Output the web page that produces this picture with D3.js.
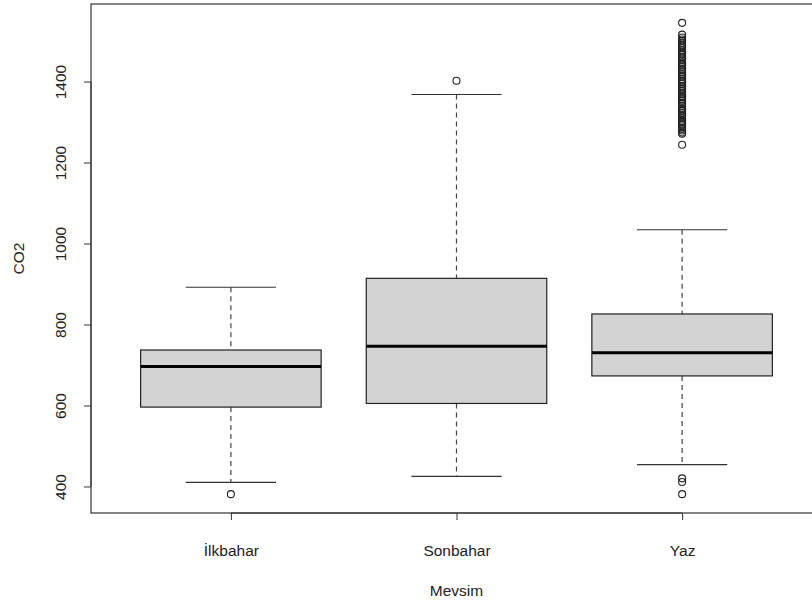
<!DOCTYPE html>
<html>
<head>
<meta charset="utf-8">
<script src="https://cdn.jsdelivr.net/npm/d3@7"></script>
<style>
  html, body { margin: 0; padding: 0; background: #ffffff; }
  svg { display: block; font-family: "Liberation Sans", Arial, sans-serif; }
</style>
</head>
<body>
<svg id="chart" width="812" height="600"></svg>
<script>
// ---- Data ----
const categories = ["İlkbahar", "Sonbahar", "Yaz"];
const lowerWhisker = [410, 425, 454];
const q1 = [596, 605, 673];
const median = [696, 746, 730];
const q3 = [737, 914, 826];
const upperWhisker = [892, 1368, 1034];
const outliersIlkbahar = [381];
const outliersSonbahar = [1402];
const outliersYaz = [381, 411, 420, 1244, 1271, 1274, 1279, 1283, 1286, 1292, 1296, 1301, 1303, 1309, 1314, 1317, 1322, 1327, 1331, 1333, 1339, 1344, 1347, 1352, 1356, 1361, 1364, 1368, 1373, 1377, 1381, 1386, 1389, 1394, 1398, 1402, 1406, 1411, 1415, 1418, 1423, 1428, 1431, 1436, 1440, 1444, 1447, 1452, 1457, 1461, 1466, 1469, 1474, 1478, 1483, 1487, 1491, 1496, 1500, 1504, 1509, 1516, 1545];
const yTicks = [400, 600, 800, 1000, 1200, 1400];
const xTitle = "Mevsim";
const yTitle = "CO2";

const outliers = [outliersIlkbahar, outliersSonbahar, outliersYaz];

(function () {
const svg = d3.select("#chart");
const pLeft = 91, pTop = 4, pRight = 822, pBottom = 513;
const FS = 15.5;

const allVals = [].concat(lowerWhisker, upperWhisker, ...outliers);
const yMin = d3.min(allVals), yMax = d3.max(allVals);
const ext = (yMax - yMin) * 0.04;
const y = d3.scaleLinear().domain([yMin - ext, yMax + ext]).range([pBottom, pTop]);
const x = d3.scaleLinear().domain([0.5 - 0.12, 3.5 + 0.12]).range([pLeft, pRight]);

const boxHalf = (x(1.4) - x(1));
const stapleHalf = boxHalf / 2;

const g = svg.append("g");

categories.forEach((c, i) => {
  const cx = x(i + 1);
  g.append("line").attr("x1", cx).attr("x2", cx)
    .attr("y1", y(upperWhisker[i])).attr("y2", y(q3[i]))
    .attr("stroke", "#444").attr("stroke-width", 1.2).attr("stroke-dasharray", "5,4");
  g.append("line").attr("x1", cx).attr("x2", cx)
    .attr("y1", y(q1[i])).attr("y2", y(lowerWhisker[i]))
    .attr("stroke", "#444").attr("stroke-width", 1.2).attr("stroke-dasharray", "5,4");
  [upperWhisker[i], lowerWhisker[i]].forEach(v => {
    g.append("line").attr("x1", cx - stapleHalf).attr("x2", cx + stapleHalf)
      .attr("y1", y(v)).attr("y2", y(v)).attr("stroke", "#333").attr("stroke-width", 1.2);
  });
  g.append("rect").attr("x", cx - boxHalf).attr("width", 2 * boxHalf)
    .attr("y", y(q3[i])).attr("height", y(q1[i]) - y(q3[i]))
    .attr("fill", "#d3d3d3").attr("stroke", "#222").attr("stroke-width", 1.2);
  g.append("line").attr("x1", cx - boxHalf).attr("x2", cx + boxHalf)
    .attr("y1", y(median[i])).attr("y2", y(median[i]))
    .attr("stroke", "#000").attr("stroke-width", 3);
  g.selectAll(null).data(outliers[i]).enter().append("circle")
    .attr("cx", cx).attr("cy", d => y(d)).attr("r", 3.5)
    .attr("fill", "none").attr("stroke", "#222").attr("stroke-width", 1.1);
});

svg.append("rect").attr("x", pLeft).attr("y", pTop)
  .attr("width", pRight - pLeft).attr("height", pBottom - pTop)
  .attr("fill", "none").attr("stroke", "#333").attr("stroke-width", 1.2);

const yAxis = d3.axisLeft(y).tickValues(yTicks).tickSize(7).tickPadding(0).tickFormat(d3.format("d"));
const ya = svg.append("g").attr("transform", `translate(${pLeft},0)`).call(yAxis);
ya.attr("font-size", FS).attr("font-family", "Liberation Sans, Arial, sans-serif");
ya.select(".domain").attr("d", `M0,${y(yTicks[0])}V${y(yTicks[yTicks.length-1])}`).attr("stroke", "#333");
ya.selectAll(".tick line").attr("stroke", "#333");
ya.selectAll(".tick text")
  .attr("x", 0).attr("dy", null).attr("y", 0)
  .attr("transform", "translate(-25,0) rotate(-90)")
  .attr("text-anchor", "middle")
  .attr("fill", "#222");

const xAxis = d3.axisBottom(x).tickValues([1, 2, 3]).tickSize(7).tickPadding(0)
  .tickFormat(d => categories[d - 1]);
const xa = svg.append("g").attr("transform", `translate(0,${pBottom})`).call(xAxis);
xa.attr("font-size", FS).attr("font-family", "Liberation Sans, Arial, sans-serif");
xa.select(".domain").attr("d", `M${x(1)},0H${x(3)}`).attr("stroke", "#333");
xa.selectAll(".tick line").attr("stroke", "#333");
xa.selectAll(".tick text").attr("y", 43).attr("dy", null).attr("fill", "#222");

svg.append("text").attr("x", x(2)).attr("y", 596).attr("text-anchor", "middle")
  .attr("font-size", FS).attr("fill", "#222").text(xTitle);
svg.append("text").attr("transform", `translate(24,${(pTop + pBottom) / 2}) rotate(-90)`)
  .attr("text-anchor", "middle").attr("font-size", FS).attr("fill", "#222").text(yTitle);
})();
</script>
</body>
</html>
